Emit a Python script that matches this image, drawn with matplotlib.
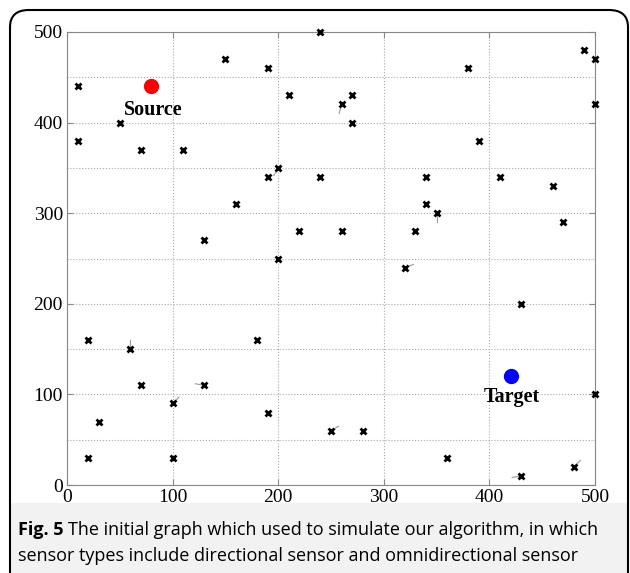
import numpy as np
import matplotlib
matplotlib.use("Agg")
import matplotlib.pyplot as plt
from matplotlib.patches import FancyBboxPatch, Rectangle
from matplotlib.ticker import MultipleLocator

# sensor positions
sensor_x = [10, 10, 50, 70, 110, 150, 190, 210, 240, 260, 270, 270, 190, 200,
            160, 130, 240, 220, 200, 260, 380, 390, 340, 340, 350, 330, 320,
            410, 460, 470, 490, 500, 500, 430, 500, 20, 60, 70, 100, 130, 180,
            190, 30, 20, 100, 250, 280, 360, 430, 480]
sensor_y = [440, 380, 400, 370, 370, 470, 460, 430, 500, 420, 430, 400, 340, 350,
            310, 270, 340, 280, 250, 280, 460, 380, 340, 310, 300, 280, 240,
            340, 330, 290, 480, 470, 420, 200, 100, 160, 150, 110, 90, 110, 160,
            80, 70, 30, 30, 60, 60, 30, 10, 20]

# directional sensors: position and pointing angle (deg)
dir_x = [260, 200, 350, 320, 60, 100, 130, 250, 430, 480]
dir_y = [420, 350, 300, 240, 150, 90, 110, 60, 10, 20]
dir_angle = [-105, -120, -90, 20, 90, 45, 170, 30, 190, 45]

source = (80, 440)
target = (420, 120)

W, H = 630, 573
fig = plt.figure(figsize=(W / 100, H / 100), dpi=100)

# caption band and rounded frame
fig.patches.append(Rectangle((11 / W, 0), 616 / W, 70 / H, transform=fig.transFigure,
                             facecolor="#f2f2f2", edgecolor="none", zorder=0))
fig.patches.append(FancyBboxPatch((10 / W, -20 / H), 618 / W, (H - 10 + 20) / H,
                                  boxstyle="round,pad=0,rounding_size=0.03",
                                  transform=fig.transFigure, facecolor="none",
                                  edgecolor="black", linewidth=1.5, zorder=1))

ax = fig.add_axes([67 / W, 1 - 485 / H, 528 / W, 453 / H])
ax.set_xlim(0, 500)
ax.set_ylim(0, 500)

ax.xaxis.set_major_locator(MultipleLocator(100))
ax.yaxis.set_major_locator(MultipleLocator(100))
ax.yaxis.set_minor_locator(MultipleLocator(50))
ax.grid(True, which="major", color="#aaaaaa", linestyle=":", linewidth=0.8)
ax.grid(True, which="minor", axis="y", color="#aaaaaa", linestyle=":", linewidth=0.8)
ax.tick_params(which="both", direction="in", top=True, right=True, length=4,
               color="#888888", labelsize=14, pad=3)
ax.tick_params(which="minor", length=0, left=False, right=True)
for lab in ax.get_xticklabels() + ax.get_yticklabels():
    lab.set_family("Liberation Serif")
for s in ax.spines.values():
    s.set_color("#888888")
    s.set_linewidth(0.8)

# direction indicators (length in pixels, converted to data units)
L = 9
sx = 528 / 500
sy = 453 / 500
for x0, y0, a in zip(dir_x, dir_y, dir_angle):
    r = np.deg2rad(a)
    ax.plot([x0, x0 + L * np.cos(r) / sx], [y0, y0 + L * np.sin(r) / sy],
            color="#999999", linewidth=0.8, zorder=3, clip_on=False)

ax.plot(sensor_x, sensor_y, linestyle="none", marker="x", color="black",
        markersize=4, markeredgewidth=2, zorder=4, clip_on=False)

ax.plot(*source, marker="o", color="red", markersize=10, zorder=5)
ax.plot(*target, marker="o", color="blue", markersize=10, zorder=5)
ax.text(82, 414, "Source", ha="center", va="center", fontsize=14.5,
        fontweight="bold", family="Liberation Serif")
ax.text(421, 97, "Target", ha="center", va="center", fontsize=14.5,
        fontweight="bold", family="Liberation Serif")

# caption
fig.canvas.draw()
t1 = fig.text(18 / W, 1 - 530 / H, "Fig. 5", fontsize=13, fontweight="bold",
              family="Open Sans", va="center", ha="left")
bb = t1.get_window_extent(fig.canvas.get_renderer())
fig.text(bb.x1 / W + 5 / W, 1 - 530 / H,
         "The initial graph which used to simulate our algorithm, in which",
         fontsize=13, family="Open Sans", va="center", ha="left")
fig.text(18 / W, 1 - 556 / H,
         "sensor types include directional sensor and omnidirectional sensor",
         fontsize=13, family="Open Sans", va="center", ha="left")

fig.savefig("out.png", dpi=100)
